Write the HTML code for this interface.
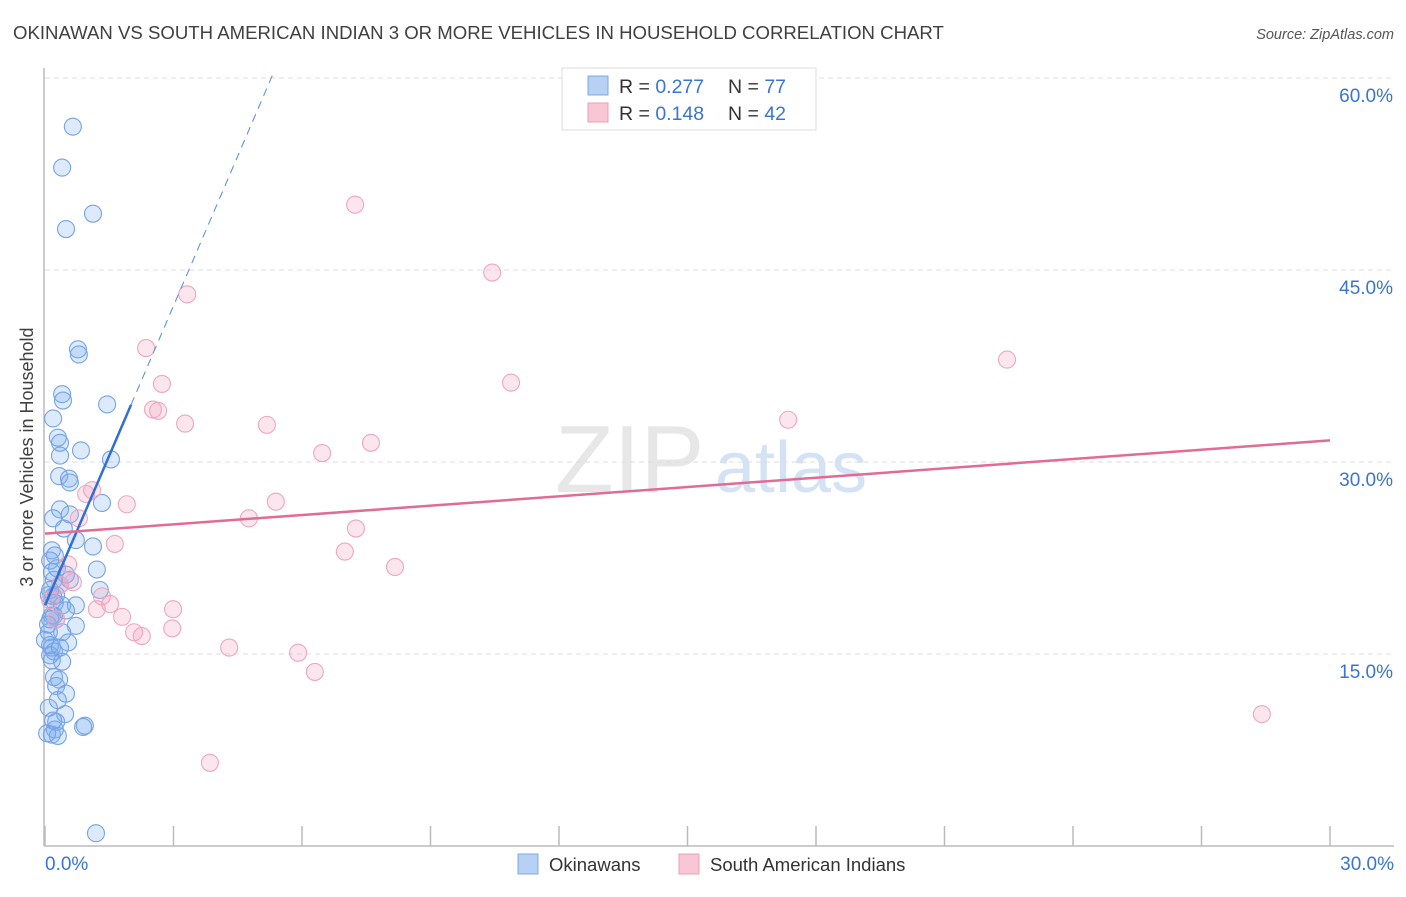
<!DOCTYPE html>
<html><head><meta charset="utf-8"><style>
body{margin:0;background:#fff;font-family:"Liberation Sans",sans-serif;}
svg text{font-family:"Liberation Sans",sans-serif;}
</style></head><body>
<svg id="chart" width="1406" height="892" xmlns="http://www.w3.org/2000/svg">
<text x="13" y="39" font-size="18.6" fill="#404040">OKINAWAN VS SOUTH AMERICAN INDIAN 3 OR MORE VEHICLES IN HOUSEHOLD CORRELATION CHART</text>
<text x="1394" y="39" font-size="14.5" fill="#555" text-anchor="end" font-style="italic">Source: ZipAtlas.com</text>
<g>
<text x="555" y="492" font-size="96" fill="#ddd" font-family="Liberation Serif" opacity="0.7">ZIP</text>
<text x="715" y="492" font-size="72" fill="#c9dcf3" opacity="0.8">atlas</text></g>
<g id="grid"></g>
<g id="axes"></g>
<g id="pts"></g>
<g id="lines"></g>
<text transform="translate(33,457) rotate(-90)" font-size="18" fill="#404040" text-anchor="middle">3 or more Vehicles in Household</text>
<g>
<rect x="562" y="68" width="254" height="62" fill="#fff" stroke="#ddd"/>
<rect x="588" y="76" width="20" height="19" fill="#b7d1f5" stroke="#7ea8e4"/>
<rect x="588" y="103" width="20" height="19" fill="#f8c6d4" stroke="#ec9fb7"/>
<text x="619" y="93" font-size="19.5" fill="#333">R = <tspan fill="#3a74d6">0.277</tspan></text>
<text x="728" y="93" font-size="19.5" fill="#333">N = <tspan fill="#3a74d6">77</tspan></text>
<text x="619" y="120" font-size="19.5" fill="#333">R = <tspan fill="#3a74d6"> 0.148</tspan></text>
<text x="728" y="120" font-size="19.5" fill="#333">N = <tspan fill="#3a74d6">42</tspan></text>
</g>
<g>
<rect x="518" y="854" width="20" height="20" fill="#b7d1f5" stroke="#7ea8e4"/>
<text x="549" y="871" font-size="18.5" fill="#333">Okinawans</text>
<rect x="679" y="854" width="20" height="20" fill="#f8c6d4" stroke="#ec9fb7"/>
<text x="710" y="871" font-size="18.5" fill="#333">South American Indians</text>
</g>
</svg>
<script>
const yTicks=[15,30,45,60];
const yTickLabels=["15.0%","30.0%","45.0%","60.0%"];
const xTickLabels=["0.0%","30.0%"];
const blueX=[0.65,0.40,0.49,1.12,0.77,0.79,0.40,0.42,1.45,0.19,0.30,0.35,0.35,0.84,1.54,0.33,0.56,0.58,0.35,0.58,1.33,0.19,0.44,0.72,1.12,0.16,0.23,0.12,0.28,1.21,0.16,0.21,0.35,1.28,0.09,0.19,0.23,0.40,0.72,0.49,0.16,0.26,0.72,0.09,0.54,0.12,0.16,0.21,0.12,0.40,0.21,0.33,0.26,0.49,0.09,0.47,0.26,0.23,0.16,0.30,0.93,0.89,1.19,0.21,0.12,0.12,0.26,0.07,0.16,0.35,0.30,0.19,0.05,0.40,0.58,0.49,0.0];
const blueY=[56.2,53.0,48.2,49.4,38.8,38.4,35.3,34.8,34.5,33.4,31.9,31.5,30.5,30.9,30.2,28.9,28.7,28.4,26.3,25.9,26.8,25.6,24.8,23.9,23.4,23.1,22.7,22.3,21.7,21.6,21.4,20.8,20.4,20.0,19.6,19.5,19.0,18.8,18.8,18.4,18.0,17.7,17.2,16.7,15.9,15.7,15.5,15.2,14.9,14.4,13.2,13.0,12.5,11.9,10.8,10.3,9.7,9.1,8.7,8.6,9.4,9.3,1.0,18.0,17.7,20.0,19.6,17.3,14.5,15.5,11.4,9.8,8.8,16.7,20.8,21.2,16.1];
const pinkX=[7.24,10.44,3.32,2.36,2.73,10.88,22.46,2.52,2.64,3.27,5.18,7.61,6.47,17.35,1.10,0.96,5.39,1.91,0.79,4.76,7.26,1.63,7.00,8.17,0.54,0.65,1.33,1.52,1.21,1.80,2.99,2.08,2.26,2.97,4.30,5.91,6.30,3.85,28.41,0.12,0.26,0.35];
const pinkY=[50.1,44.8,43.1,38.9,36.1,36.2,38.0,34.1,34.0,33.0,32.9,31.5,30.7,33.3,27.8,27.5,26.9,26.7,25.6,25.6,24.8,23.6,23.0,21.8,22.0,20.6,19.5,18.9,18.5,17.9,18.5,16.7,16.4,17.0,15.5,15.1,13.6,6.5,10.3,19.2,17.7,20.4];
const blueTrend=[18.8,7.8]; // intercept, slope
const pinkTrend=[24.4,0.243];
const NS="http://www.w3.org/2000/svg";
const X=v=>45+v*(1285/30);
const Y=v=>846-v*12.8;
function mk(tag,attrs,parent){const e=document.createElementNS(NS,tag);for(const k in attrs)e.setAttribute(k,attrs[k]);document.getElementById(parent).appendChild(e);return e;}
yTicks.forEach((t,i)=>{
 let g=mk('line',{x1:45,x2:1394,y1:Y(t),y2:Y(t),stroke:'#ddd','stroke-dasharray':'5,4'},'grid');
 
 
 let l=mk('text',{x:1393,y:Y(t)+24,'font-size':19,fill:'#3a74d6','text-anchor':'end'},'grid');
 l.textContent=yTickLabels[i];
 
 
});
let ax=mk('line',{x1:44,x2:44,y1:68,y2:846,stroke:'#bbb','stroke-width':1.5},'axes');


let bx=mk('line',{x1:44,x2:1394,y1:846,y2:846,stroke:'#bbb','stroke-width':1.5},'axes');


for(let i=0;i<=10;i++){
 let t=mk('line',{x1:X(i*3),x2:X(i*3),y1:826,y2:846,stroke:'#bbb','stroke-width':1.5},'axes');
 
 
}
[[0,'start',45],[30,'end',1394]].forEach((d,i)=>{
 let l=mk('text',{x:d[2],y:870,'font-size':19,fill:'#3a74d6','text-anchor':d[1]},'axes');
 l.textContent=xTickLabels[i];
 
 
});
blueX.forEach((x,i)=>{
 let c=mk('circle',{cx:X(x),cy:Y(blueY[i]),r:8.5,fill:'rgba(120,170,240,0.25)',stroke:'#76a3e6','stroke-width':1.1},'pts');
 
 
});
pinkX.forEach((x,i)=>{
 let c=mk('circle',{cx:X(x),cy:Y(pinkY[i]),r:8.5,fill:'rgba(245,165,190,0.28)',stroke:'#eea7bd','stroke-width':1.1},'pts');
 
 
});
const bx2=2.01, bx3=5.35;
let bl=mk('line',{x1:X(0),y1:Y(blueTrend[0]),x2:X(bx2),y2:Y(blueTrend[0]+blueTrend[1]*bx2),stroke:'#2f6fd6','stroke-width':2.5},'lines');


let bd=mk('line',{x1:X(bx2),y1:Y(blueTrend[0]+blueTrend[1]*bx2),x2:X(bx3),y2:Y(blueTrend[0]+blueTrend[1]*bx3),stroke:'#5f93de','stroke-width':1.1,'stroke-dasharray':'8,6'},'lines');


let pl=mk('line',{x1:X(0),y1:Y(pinkTrend[0]),x2:X(30),y2:Y(pinkTrend[0]+pinkTrend[1]*30),stroke:'#e36a95','stroke-width':2.5},'lines');


</script>
</body></html>
